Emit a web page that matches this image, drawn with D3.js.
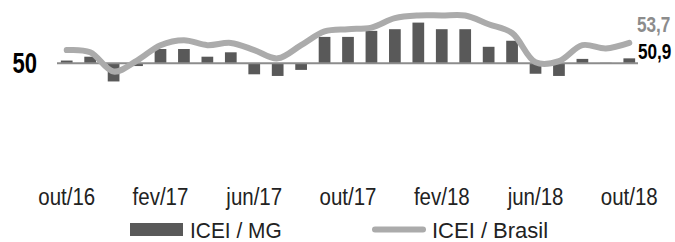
<!DOCTYPE html>
<html>
<head>
<meta charset="utf-8">
<script src="https://cdn.jsdelivr.net/npm/d3@7"></script>
<style>
  body { margin: 0; background: #fff; }
  svg { display: block; font-family: "Liberation Sans", Arial, sans-serif; }
</style>
</head>
<body>
<svg id="chart" width="675" height="242"></svg>
<script>
// months, oct/2016 .. oct/2018
var months = ["out/16","nov/16","dez/16","jan/17","fev/17","mar/17","abr/17","mai/17","jun/17","jul/17","ago/17","set/17",
              "out/17","nov/17","dez/17","jan/18","fev/18","mar/18","abr/18","mai/18","jun/18","jul/18","ago/18","set/18","out/18"];

// ICEI / MG (bars)
var iceiMG = [50.5, 51.2, 46.7, 49.5, 52.6, 52.6, 51.2, 52.0, 48.0, 47.7, 48.8, 54.8,
              54.8, 55.9, 56.2, 57.4, 56.2, 56.2, 53.0, 54.1, 48.1, 47.7, 50.8, 50.1, 50.9];

// ICEI / Brasil (line)
var iceiBR = [52.4, 52.0, 48.5, 50.5, 53.3, 54.2, 53.3, 53.7, 52.4, 50.9, 53.3, 55.8,
              56.2, 56.5, 58.2, 58.7, 58.7, 58.7, 57.1, 55.5, 50.2, 50.4, 53.3, 52.7, 53.7];

var tickMonths = ["out/16","fev/17","jun/17","out/17","fev/18","jun/18","out/18"];
var baseValue = 50;

var svg = d3.select('#chart');

var ptBR = d3.formatLocale({decimal: ",", thousands: ".", grouping: [3], currency: ["R$", ""]});
var fmt = ptBR.format(".1f");

var x = d3.scaleBand()
    .domain(months)
    .range([55, 641])
    .paddingInner(0.5)
    .paddingOuter(0.25);

var y = d3.scaleLinear()
    .domain([45, 60])
    .range([90.8, 8.3]);

//bars, from 50 up or down
svg.append('g').selectAll('rect')
    .data(iceiMG)
    .enter().append('rect')
    .attr('x', function(d, i) { return x(months[i]); })
    .attr('width', x.bandwidth())
    .attr('y', function(d) { return y(Math.max(d, baseValue)); })
    .attr('height', function(d) { return Math.abs(y(d) - y(baseValue)); })
    .style('fill', '#595959');

//base line at 50
svg.append('line')
    .attr('x1', 57).attr('x2', 638)
    .attr('y1', y(baseValue)).attr('y2', y(baseValue))
    .style('stroke', '#8c8c8c')
    .style('stroke-width', 2);

//brasil line
var line = d3.line()
    .x(function(d, i) { return x(months[i]) + x.bandwidth() / 2; })
    .y(function(d) { return y(d); })
    .curve(d3.curveCatmullRom.alpha(0.5));

svg.append('path')
    .datum(iceiBR)
    .attr('d', line)
    .style('fill', 'none')
    .style('stroke', '#ababab')
    .style('stroke-width', 6)
    .style('stroke-linecap', 'round');

//"50" label on the left (narrow look via scale)
var yAxis = svg.append('g')
    .attr('transform', 'translate(37,0)')
    .call(d3.axisLeft(y).tickValues([baseValue]).tickSize(0).tickPadding(0));
yAxis.select('.domain').remove();
yAxis.selectAll('text')
    .attr('transform', 'scale(0.76,1)')
    .style('font-family', null)
    .style('font-size', '29px')
    .style('font-weight', 'bold')
    .style('fill', '#000');

//x axis labels
var xAxis = svg.append('g')
    .attr('transform', 'translate(0,189)')
    .call(d3.axisBottom(x).tickValues(tickMonths).tickSize(0).tickPadding(0));
xAxis.select('.domain').remove();
xAxis.selectAll('text')
    .attr('transform', 'scale(0.89,1)')
    .style('font-family', null)
    .style('font-size', '23px')
    .style('fill', '#222');

//end values
var last = months.length - 1;
svg.append('text')
    .attr('transform', 'translate(637,32) scale(0.78,1)')
    .style('font-size', '22px').style('font-weight', 'bold')
    .style('fill', '#8c8c8c')
    .text(fmt(iceiBR[last]));
svg.append('text')
    .attr('transform', 'translate(638,59) scale(0.78,1)')
    .style('font-size', '22px').style('font-weight', 'bold')
    .style('fill', '#000')
    .text(fmt(iceiMG[last]));

//legend
var legend = svg.append('g');
legend.append('rect')
    .attr('x', 130).attr('y', 223).attr('width', 53).attr('height', 13)
    .style('fill', '#595959');
legend.append('text')
    .attr('transform', 'translate(190,238) scale(0.95,1)')
    .style('font-size', '22px').style('fill', '#222')
    .text('ICEI / MG');
legend.append('line')
    .attr('x1', 375).attr('x2', 423).attr('y1', 229.5).attr('y2', 229.5)
    .style('stroke', '#ababab').style('stroke-width', 6).style('stroke-linecap', 'round');
legend.append('text')
    .attr('transform', 'translate(432,238) scale(1,1)')
    .style('font-size', '22px').style('fill', '#222')
    .text('ICEI / Brasil');
</script>
</body>
</html>
